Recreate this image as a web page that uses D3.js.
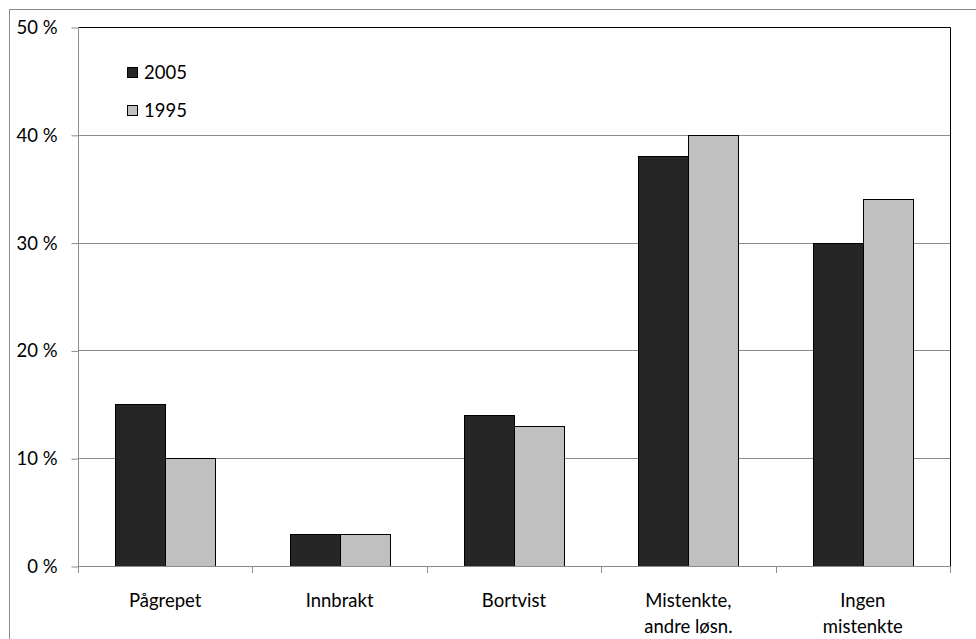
<!DOCTYPE html>
<html><head><meta charset="utf-8">
<script src="https://cdn.jsdelivr.net/npm/d3@7"></script>
<style>body{margin:0;background:#fff;} svg{display:block;font-family:Lato,"Open Sans",sans-serif;}</style>
</head><body>
<script>
const categories = [["Pågrepet"],["Innbrakt"],["Bortvist"],["Mistenkte,","andre løsn."],["Ingen","mistenkte"]];
const series = ["2005","1995"];
const values2005 = [15,3,14,38,30];
const values1995 = [10,3,13,40,34];
const yTicks = [0,10,20,30,40,50];
const colors = ["#262626","#c0c0c0"];

const W=976,H=639,FS=18.5;
const svg=d3.select("body").append("svg").attr("width",W).attr("height",H);
svg.append("rect").attr("x",9.5).attr("y",9.5).attr("width",W).attr("height",H).attr("fill","none").attr("stroke","#8c8c8c");

const L=78,R=950,T=27,B=566;
const x=d3.scaleBand().domain(d3.range(categories.length)).range([L,R]);
const y=d3.scaleLinear().domain([0,50]).range([B,T]);

svg.append("g").selectAll("line").data(yTicks.filter(d=>d>0&&d<50)).join("line")
  .attr("x1",L).attr("x2",R).attr("y1",d=>Math.round(y(d))+0.5).attr("y2",d=>Math.round(y(d))+0.5)
  .attr("stroke","#8c8c8c");
svg.append("path").attr("d",`M${L},${T+0.5}H${R+0.5}V${B}`).attr("fill","none").attr("stroke","#000");

const bw=50;
const data=[values2005,values1995];
data.forEach((vals,si)=>{
  svg.append("g").selectAll("rect").data(vals).join("rect")
   .attr("x",(d,i)=>Math.round(x(i)+x.bandwidth()/2-bw+si*bw)+0.5)
   .attr("y",d=>Math.round(y(d))+0.5)
   .attr("width",bw).attr("height",d=>B-Math.round(y(d)))
   .attr("fill",colors[si]).attr("stroke","#000").attr("stroke-width",1);
});

const ya=svg.append("g").attr("transform",`translate(${L+0.5},0)`)
  .call(d3.axisLeft(y).tickValues(yTicks).tickSize(7).tickFormat(d=>d+" %"));
ya.select(".domain").attr("stroke","#8c8c8c").attr("d",`M0,${B}V${T}`);
ya.selectAll(".tick line").attr("stroke","#8c8c8c").attr("transform","translate(0,0.5)");
ya.selectAll(".tick text").attr("font-size",FS).attr("fill","#000").attr("x",-21).attr("dy","0.35em").attr("font-family","Lato,'Open Sans',sans-serif");

const xg=svg.append("g");
xg.append("line").attr("x1",L).attr("x2",R).attr("y1",B+0.5).attr("y2",B+0.5).attr("stroke","#8c8c8c");
xg.selectAll(".xt").data(d3.range(categories.length+1)).join("line")
  .attr("x1",i=>Math.round(L+i*x.step())+0.5).attr("x2",i=>Math.round(L+i*x.step())+0.5)
  .attr("y1",B).attr("y2",B+7).attr("stroke","#8c8c8c");
categories.forEach((lines,i)=>{
  const t=xg.append("text").attr("text-anchor","middle").attr("font-size",FS).attr("fill","#000");
  lines.forEach((ln,j)=>t.append("tspan").attr("x",x(i)+x.bandwidth()/2).attr("y",607+j*26).text(ln));
});

const lg=svg.append("g");
series.forEach((s,i)=>{
  lg.append("rect").attr("x",127.5).attr("y",67.5+i*38).attr("width",10).attr("height",10)
    .attr("fill",colors[i]).attr("stroke","#000");
  lg.append("text").attr("x",144).attr("y",79+i*38).attr("font-size",FS).attr("fill","#000").text(s);
});
</script>
</body></html>
